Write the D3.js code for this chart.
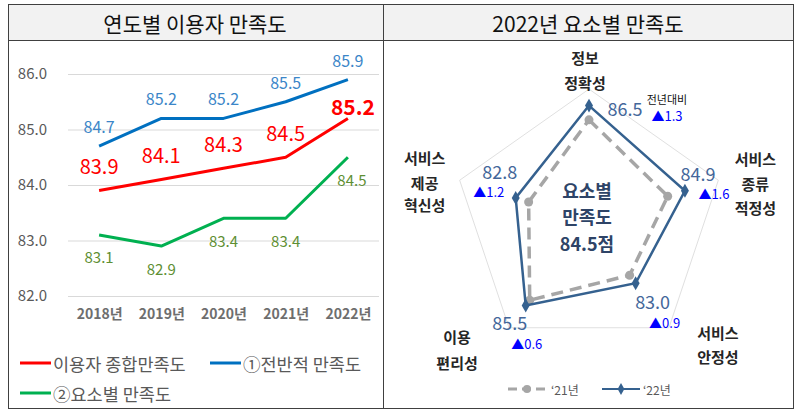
<!DOCTYPE html>
<html><head><meta charset="utf-8">
<script src="https://cdn.jsdelivr.net/npm/d3@7"></script>
<style>
body{margin:0;background:#fff}
svg{display:block}
text{font-family:"Noto Sans CJK KR","Noto Sans",sans-serif}
</style>
</head><body>
<svg id="c" width="800" height="414"></svg>
<script>
// ---------- data ----------
const years = ["2018년","2019년","2020년","2021년","2022년"];
const totalSat = [83.9, 84.1, 84.3, 84.5, 85.2];     // 이용자 종합만족도
const overallSat = [84.7, 85.2, 85.2, 85.5, 85.9];   // ①전반적 만족도
const elementSat = [83.1, 82.9, 83.4, 83.4, 84.5];   // ②요소별 만족도
const yTicks = [82, 83, 84, 85, 86];
const lineLegend = ["이용자 종합만족도", "①전반적 만족도", "②요소별 만족도"];

const radarAxes = [["정보","정확성"],["서비스","종류","적정성"],["서비스","안정성"],["이용","편리성"],["서비스","제공","혁신성"]];
const sat21 = [85.2, 83.3, 82.1, 84.9, 81.6];
const sat22 = [86.5, 84.9, 83.0, 85.5, 82.8];
const yoyDiff = [1.3, 1.6, 0.9, 0.6, 1.2];
const radarLegend = ["‘21년", "‘22년"];
const radarCenter = ["요소별", "만족도", "84.5점"];

const svg = d3.select("#c");

// ---------- frame ----------
svg.append("rect").attr("x",8.5).attr("y",4.5).attr("width",785).attr("height",36).attr("fill","#f2f2f2");
svg.append("rect").attr("x",8.5).attr("y",4.5).attr("width",785).attr("height",404)
  .attr("fill","none").attr("stroke","#404040").attr("stroke-width",1);
svg.append("line").attr("x1",8.5).attr("x2",793.5).attr("y1",40.5).attr("y2",40.5).attr("stroke","#404040");
svg.append("line").attr("x1",383.5).attr("x2",383.5).attr("y1",4.5).attr("y2",408.5).attr("stroke","#404040");

svg.append("text").attr("x",195).attr("y",23).attr("text-anchor","middle").attr("dominant-baseline","central")
  .attr("font-size",21).attr("fill","#111").text("연도별 이용자 만족도");
svg.append("text").attr("x",588).attr("y",23).attr("text-anchor","middle").attr("dominant-baseline","central")
  .attr("font-size",21).attr("fill","#111").text("2022년 요소별 만족도");

// ---------- left line chart ----------
const x = d3.scalePoint().domain(years).range([68, 379]).padding(0.5);
const y = d3.scaleLinear().domain([82, 86]).range([296, 74]);

const gy = svg.append("g").attr("transform","translate(68,0)")
  .call(d3.axisLeft(y).tickValues(yTicks).tickFormat(d3.format(".1f")).tickSize(-311).tickPadding(21));
gy.select(".domain").remove();
gy.selectAll(".tick line").attr("stroke","#d9d9d9").attr("stroke-width",1);
gy.selectAll(".tick text").attr("font-size",15).attr("fill","#595959").attr("font-family","'Noto Sans CJK KR'");

const gx = svg.append("g").attr("transform","translate(0,296)")
  .call(d3.axisBottom(x).tickSize(0).tickPadding(13));
gx.select(".domain").remove();
gx.selectAll(".tick text").attr("font-size",14).attr("font-weight",600).attr("fill","#6e6e6e").attr("font-family","'Noto Sans CJK KR'");

const series = [
  {vals: totalSat, color:"#ff0000", lab:"#ff0000", fs:20, dy:-25},
  {vals: overallSat, color:"#0070c0", lab:"#3b86c8", fs:16, dy:-20},
  {vals: elementSat, color:"#00b050", lab:"#5e8f33", fs:15, dy:22}
];
const line = d3.line().x((d,i)=>x(years[i])).y(d=>y(d));
series.forEach(s=>{
  svg.append("path").datum(s.vals).attr("d",line).attr("fill","none")
    .attr("stroke",s.color).attr("stroke-width",3).attr("stroke-linejoin","round");
});
series.forEach((s,si)=>{
  svg.selectAll(null).data(s.vals).enter().append("text")
    .attr("x",(d,i)=> x(years[i]) + (si===0 && i===4 ? 5 : (si===2 && i===4 ? 4 : 0)))
    .attr("y",(d,i)=> y(d) + (si===0 && i===4 ? -12 : s.dy))
    .attr("text-anchor","middle").attr("dominant-baseline","central")
    .attr("font-size",(d,i)=> si===0 && i===4 ? 21 : s.fs)
    .attr("font-weight",(d,i)=> si===0 && i===4 ? "bold" : "normal")
    .attr("fill",s.lab).text(d=>d.toFixed(1));
});

// legend
const legPos = [[20,363],[210,363],[20,393]];
series.forEach((s,i)=>{
  const [lx,ly] = legPos[i];
  svg.append("line").attr("x1",lx).attr("x2",lx+31).attr("y1",ly).attr("y2",ly)
    .attr("stroke",s.color).attr("stroke-width",3);
  svg.append("text").attr("x",lx+33).attr("y",ly).attr("dominant-baseline","central")
    .attr("font-size",17.5).attr("fill","#595959").text(lineLegend[i]);
});

// ---------- radar ----------
const cx = 589, cy = 221, sy = 0.97;
const r = d3.scaleLinear().domain([76, 88]).range([0, 136]);
const ang = i => (-90 + 72*i) * Math.PI/180;
const pt = (v,i) => [cx + r(v)*Math.cos(ang(i)), cy + r(v)*Math.sin(ang(i))*sy];

const outer = radarAxes.map((a,i)=>pt(88,i));
svg.append("polygon").attr("points", outer.map(p=>p.join(",")).join(" "))
  .attr("fill","none").attr("stroke","#e0e0e0").attr("stroke-width",1);

const radarLine = d3.line().x(d=>d[0]).y(d=>d[1]).curve(d3.curveLinearClosed);
const p21 = sat21.map(pt), p22 = sat22.map(pt);
svg.append("path").datum(p21).attr("d",radarLine).attr("fill","none")
  .attr("stroke","#a6a6a6").attr("stroke-width",3.5).attr("stroke-dasharray","12,7");
svg.selectAll(null).data(p21).enter().append("circle")
  .attr("cx",d=>d[0]).attr("cy",d=>d[1]).attr("r",4.5).attr("fill","#a6a6a6");
svg.append("path").datum(p22).attr("d",radarLine).attr("fill","none")
  .attr("stroke","#35618f").attr("stroke-width",2.5);
svg.selectAll(null).data(p22).enter().append("path")
  .attr("transform",d=>`translate(${d[0]},${d[1]})`)
  .attr("d",d3.symbol(d3.symbolDiamond,55)).attr("fill","#35618f");

// axis labels
const axOff = [[-4,[-32,-7]],[37,[-22,3,27]],[49,[5,29]],[-52,[9,35]],[-35,[-23,2,24]]];
radarAxes.forEach((lines,i)=>{
  const [ox,oy] = outer[i];
  lines.forEach((t,j)=>{
    svg.append("text").attr("x",ox+axOff[i][0]).attr("y",oy+axOff[i][1][j])
      .attr("text-anchor","middle").attr("dominant-baseline","central")
      .attr("font-size",15).attr("font-weight","bold").attr("fill","#262626").text(t);
  });
});

// value labels
const valOff = [[36,2],[13,-18],[17,18],[-16,17],[-16,-27]];
const dOff = [[78,10],[29,3],[29,39],[1,38],[-27,-6]];
p22.forEach((p,i)=>{
  svg.append("text").attr("x",p[0]+valOff[i][0]).attr("y",p[1]+valOff[i][1])
    .attr("text-anchor","middle").attr("dominant-baseline","central")
    .attr("font-size",18).attr("fill","#44679a").text(sat22[i].toFixed(1));
  svg.append("text").attr("x",p[0]+dOff[i][0]).attr("y",p[1]+dOff[i][1])
    .attr("text-anchor","middle").attr("dominant-baseline","central")
    .attr("font-size",13).attr("fill","#0000ff").text("▲"+yoyDiff[i].toFixed(1));
});
svg.append("text").attr("x",p22[0][0]+78).attr("y",p22[0][1]-7)
  .attr("text-anchor","middle").attr("dominant-baseline","central")
  .attr("font-size",11).attr("fill","#111").text("전년대비");

// center text
radarCenter.forEach((t,j)=>{
  svg.append("text").attr("x",cx-2).attr("y",190+j*26.3)
    .attr("text-anchor","middle").attr("dominant-baseline","central")
    .attr("font-size",18).attr("font-weight","bold").attr("fill","#2e4467").text(t);
});

// radar legend
const rl = svg.append("g");
rl.append("line").attr("x1",508).attr("x2",548).attr("y1",389).attr("y2",389)
  .attr("stroke","#a6a6a6").attr("stroke-width",3).attr("stroke-dasharray","9,5");
rl.append("circle").attr("cx",527).attr("cy",389).attr("r",4).attr("fill","#a6a6a6");
rl.append("text").attr("x",551).attr("y",389).attr("dominant-baseline","central")
  .attr("font-size",12).attr("fill","#595959").text(radarLegend[0]);
rl.append("line").attr("x1",602).attr("x2",640).attr("y1",389).attr("y2",389)
  .attr("stroke","#35618f").attr("stroke-width",2);
rl.append("path").attr("transform","translate(621,389)").attr("d",d3.symbol(d3.symbolDiamond,40)).attr("fill","#35618f");
rl.append("text").attr("x",643).attr("y",389).attr("dominant-baseline","central")
  .attr("font-size",12).attr("fill","#595959").text(radarLegend[1]);
</script>
</body></html>
